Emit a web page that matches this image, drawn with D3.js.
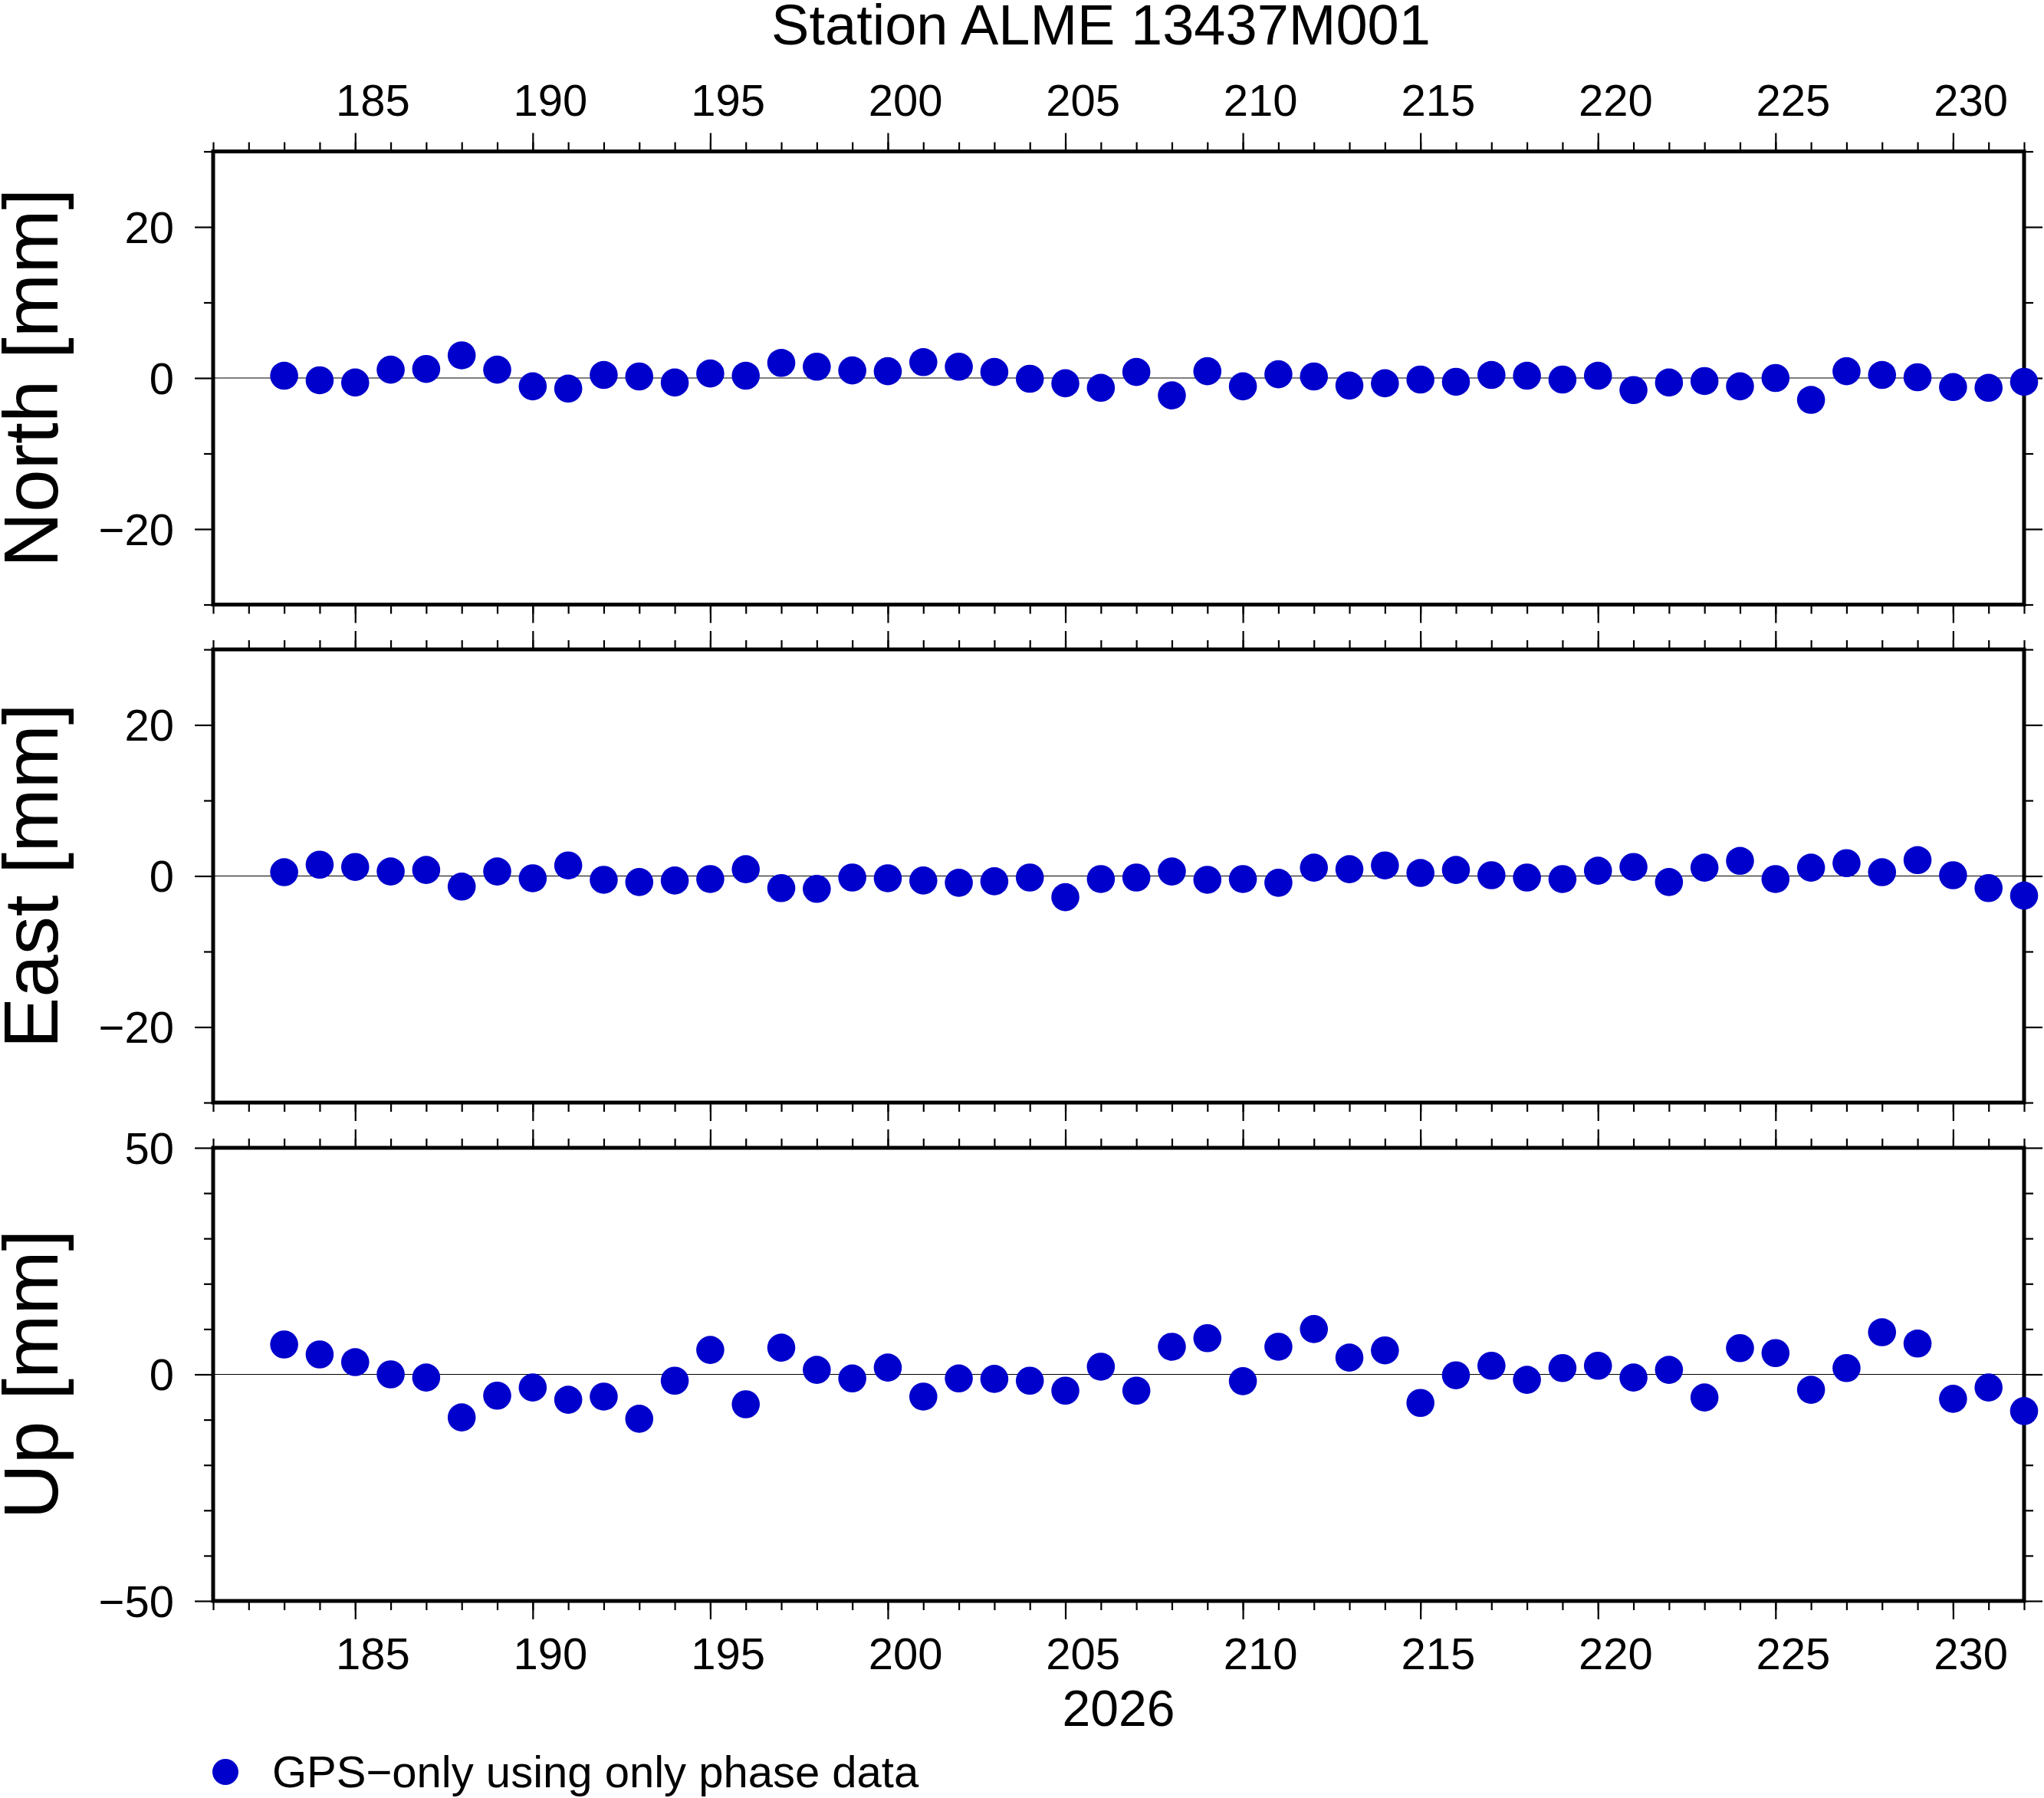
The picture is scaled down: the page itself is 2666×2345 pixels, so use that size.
<!DOCTYPE html>
<html><head><meta charset="utf-8">
<script src="https://cdn.jsdelivr.net/npm/d3@7"></script>
<style>
body{margin:0;background:#fff}
svg{display:block}
text{font-family:"Liberation Sans",Arial,Helvetica,sans-serif;fill:#000}
</style>
</head><body>
<svg id="chart" width="2666" height="2345"></svg>
<script>
// ---- data ----
const title = "Station ALME 13437M001";
const yearLabel = "2026";
const legendLabel = "GPS\u2212only using only phase data";
const days = [183,184,185,186,187,188,189,190,191,192,193,194,195,196,197,198,199,200,201,202,203,204,205,206,207,208,209,210,211,212,213,214,215,216,217,218,219,220,221,222,223,224,225,226,227,228,229,230,231,232];
const north = [0.3,-0.3,-0.6,1.1,1.2,3.0,1.1,-1.1,-1.4,0.4,0.2,-0.6,0.6,0.3,2.0,1.5,1.0,0.9,2.1,1.5,0.8,-0.1,-0.7,-1.3,0.8,-2.3,0.9,-1.1,0.5,0.2,-1.0,-0.7,-0.2,-0.5,0.4,0.3,-0.2,0.3,-1.6,-0.6,-0.4,-1.1,0.0,-2.9,0.9,0.4,0.1,-1.2,-1.3,-0.5];
const east = [0.5,1.5,1.2,0.6,0.8,-1.4,0.6,-0.3,1.4,-0.5,-0.8,-0.6,-0.4,0.9,-1.6,-1.7,-0.2,-0.3,-0.6,-0.9,-0.7,-0.2,-2.8,-0.4,-0.2,0.6,-0.5,-0.4,-0.9,1.1,0.9,1.4,0.4,0.8,0.1,-0.2,-0.4,0.7,1.2,-0.8,1.1,2.0,-0.4,1.1,1.7,0.5,2.1,0.1,-1.6,-2.6];
const up = [6.6,4.4,2.7,0.0,-0.7,-9.5,-4.7,-2.9,-5.6,-4.9,-9.8,-1.4,5.4,-6.6,5.9,1.0,-0.9,1.5,-4.9,-0.9,-1.0,-1.4,-3.6,1.7,-3.6,6.1,8.0,-1.5,6.1,10.0,3.7,5.3,-6.3,-0.2,1.9,-1.2,1.4,1.9,-0.7,1.0,-5.1,5.8,4.7,-3.4,1.4,9.3,6.8,-5.4,-2.9,-8.1];
const xDomain = [181, 232];
const xMajorTicks = [185,190,195,200,205,210,215,220,225,230];
const xMinorTicks = [181,182,183,184,185,186,187,188,189,190,191,192,193,194,195,196,197,198,199,200,201,202,203,204,205,206,207,208,209,210,211,212,213,214,215,216,217,218,219,220,221,222,223,224,225,226,227,228,229,230,231,232];
const panelLabels = ["North [mm]","East [mm]","Up [mm]"];
const panelSeries = [north, east, up];
const panelDomains = [[-30,30],[-30,30],[-50,50]];
const panelMajorTicks = [[-20,0,20],[-20,0,20],[-50,0,50]];
const panelMinorTicks = [[-30,-10,10,30],[-30,-10,10,30],[-40,-30,-20,-10,10,20,30,40]];

// ---- layout ----
const svg = d3.select("#chart");
const left = 278, right = 2640;
const panelTops = [197.5, 847, 1497];
const panelH = 591;
const color = "rgb(0,0,204)";
const majorLen = 24, minorLen = 12;
const tickW = 2.2, frameW = 5;
const r = 18.3;

const x = d3.scaleLinear().domain(xDomain).range([left, right]);

svg.append("text").attr("x", 1436).attr("y", 58)
  .attr("text-anchor","middle").attr("font-size",74).text(title);

function styleAxis(g){
  g.select(".domain").remove();
  g.selectAll(".tick line").attr("stroke","#000").attr("stroke-width",tickW);
}

panelSeries.forEach((series, i) => {
  const top = panelTops[i], bottom = top + panelH;
  const y = d3.scaleLinear().domain(panelDomains[i]).range([bottom, top]);
  const g = svg.append("g");

  // zero line
  g.append("line").attr("x1", left).attr("x2", right)
    .attr("y1", y(0)).attr("y2", y(0))
    .attr("stroke","#000").attr("stroke-width",1.2);

  // y axes left
  g.append("g").attr("transform",`translate(${left},0)`)
    .call(d3.axisLeft(y).tickValues(panelMajorTicks[i]).tickSize(majorLen).tickPadding(27)
      .tickFormat(d3.format("d")))
    .call(styleAxis)
    .call(a => a.selectAll("text").attr("font-size",58).attr("font-family",null).attr("dy","0.35em"));
  g.append("g").attr("transform",`translate(${left},0)`)
    .call(d3.axisLeft(y).tickValues(panelMinorTicks[i]).tickSize(minorLen).tickFormat(""))
    .call(styleAxis);
  // y axes right
  g.append("g").attr("transform",`translate(${right},0)`)
    .call(d3.axisRight(y).tickValues(panelMajorTicks[i]).tickSize(majorLen).tickFormat(""))
    .call(styleAxis);
  g.append("g").attr("transform",`translate(${right},0)`)
    .call(d3.axisRight(y).tickValues(panelMinorTicks[i]).tickSize(minorLen).tickFormat(""))
    .call(styleAxis);
  // x axes top/bottom
  g.append("g").attr("transform",`translate(0,${top})`)
    .call(d3.axisTop(x).tickValues(xMajorTicks).tickSize(majorLen).tickFormat(""))
    .call(styleAxis);
  g.append("g").attr("transform",`translate(0,${top})`)
    .call(d3.axisTop(x).tickValues(xMinorTicks).tickSize(minorLen).tickFormat(""))
    .call(styleAxis);
  g.append("g").attr("transform",`translate(0,${bottom})`)
    .call(d3.axisBottom(x).tickValues(xMajorTicks).tickSize(majorLen).tickFormat(""))
    .call(styleAxis);
  g.append("g").attr("transform",`translate(0,${bottom})`)
    .call(d3.axisBottom(x).tickValues(xMinorTicks).tickSize(minorLen).tickFormat(""))
    .call(styleAxis);

  // frame
  g.append("rect").attr("x", left).attr("y", top)
    .attr("width", right - left).attr("height", panelH)
    .attr("fill","none").attr("stroke","#000").attr("stroke-width",frameW);

  // x labels (centered on the day)
  if (i === 0) {
    g.selectAll("text.xt").data(xMajorTicks).join("text").attr("class","xt")
      .attr("x", d => x(d + 0.5)).attr("y", top - 47)
      .attr("text-anchor","middle").attr("font-size",58).text(d => d);
  }
  if (i === panelSeries.length - 1) {
    g.selectAll("text.xb").data(xMajorTicks).join("text").attr("class","xb")
      .attr("x", d => x(d + 0.5)).attr("y", bottom + 89)
      .attr("text-anchor","middle").attr("font-size",58).text(d => d);
    g.append("text").attr("x", (left + right) / 2).attr("y", 2251)
      .attr("text-anchor","middle").attr("font-size",66).text(yearLabel);
  }

  // panel label
  g.append("text")
    .attr("transform",`translate(75,${(top + bottom) / 2}) rotate(-90)`)
    .attr("text-anchor","middle").attr("font-size",100).text(panelLabels[i]);

  // points
  g.selectAll("circle").data(days).join("circle")
    .attr("cx", d => x(d)).attr("cy", (d, k) => y(series[k]))
    .attr("r", r).attr("fill", color);
});

// legend
svg.append("circle").attr("cx",294).attr("cy",2311).attr("r",17).attr("fill",color);
svg.append("text").attr("x",355).attr("y",2331).attr("font-size",58).text(legendLabel);
</script>
</body></html>
